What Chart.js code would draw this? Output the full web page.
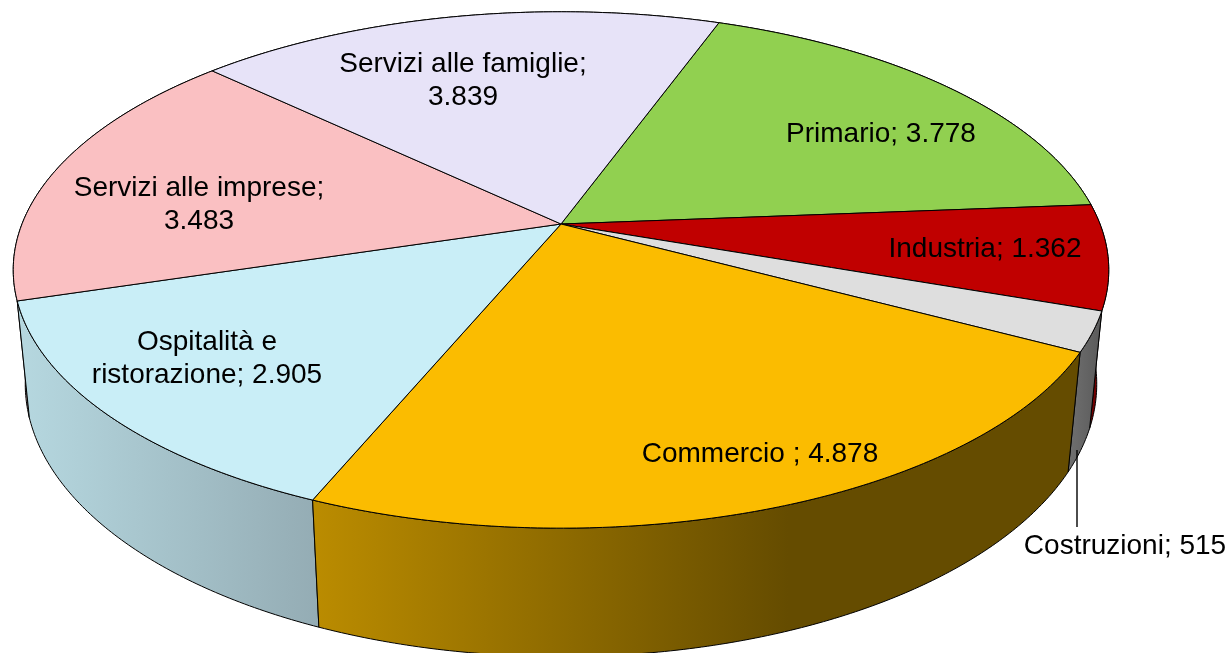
<!DOCTYPE html>
<html><head><meta charset="utf-8">
<style>html,body{margin:0;padding:0;background:#fff;overflow:hidden}canvas{display:block}</style>
<script src="https://cdn.jsdelivr.net/npm/chart.js@4"></script>
</head><body>
<canvas id="c" width="1228" height="653"></canvas>
<script>
const categories = ["Primario","Industria","Costruzioni","Commercio ","Ospitalità e ristorazione","Servizi alle imprese","Servizi alle famiglie"];
const values = [3778,1362,515,4878,2905,3483,3839];
const labelLines = [["Primario; 3.778"],["Industria; 1.362"],["Costruzioni; 515"],["Commercio ; 4.878"],["Ospitalità e","ristorazione; 2.905"],["Servizi alle imprese;","3.483"],["Servizi alle famiglie;","3.839"]];
const topColors = ["#91D050","#C00000","#DEDEDE","#FBBC00","#C9EEF7","#FAC0C2","#E7E3F8"];

// presentation only
const wallStyles = [["#5A7A30","#5A7A30",1],["#7A0000","#6A0000",1],["#707070","#5A5A5A",1],["#BB8C00","#654C00",0.62],["#B6D8E0","#94ACB4",1],["#C8A8AA","#C8A8AA",1],["#8A8890","#8A8890",1]];
const labelAnchors = [[881,134],[985,249],[1125,546],[760,454],[207,342],[199,188],[463,64]];
const P = {cx:561, cy:224, R:539, Ry:250, k:0.178, m:0.0217, n:115};
const LINE_H = 33;

function project(a, low){
  const u = Math.cos(a), v = Math.sin(a);
  const w = 1 - P.k*v + (low ? P.m : 0);
  return [P.cx + P.R*u/w, P.cy + (P.Ry*v + (low ? P.n : 0))/w];
}
function arcPts(a0,a1,low){
  const n = Math.max(2, Math.ceil(Math.abs(a1-a0)/0.01)), pts=[];
  for(let i=0;i<=n;i++) pts.push(project(a0+(a1-a0)*i/n, low));
  return pts;
}
const pie3d = {
  id:'pie3d',
  beforeDatasetsDraw(chart){
    const ctx = chart.ctx, arcs = chart.getDatasetMeta(0).data;
    ctx.save();
    ctx.lineJoin='round';
    ctx.strokeStyle='#000';
    ctx.lineWidth=1;
    const order = arcs.map((e,i)=>i).sort((a,b)=>
      Math.sin((arcs[a].startAngle+arcs[a].endAngle)/2)-Math.sin((arcs[b].startAngle+arcs[b].endAngle)/2));
    for(const i of order){
      const e=arcs[i], up=arcPts(e.startAngle,e.endAngle,false), lo=arcPts(e.startAngle,e.endAngle,true).reverse();
      const all=up.concat(lo), xs=all.map(p=>p[0]);
      const g=ctx.createLinearGradient(Math.min(...xs),0,Math.max(...xs),0), s=wallStyles[i];
      g.addColorStop(0,s[0]); g.addColorStop(s[2],s[1]); g.addColorStop(1,s[1]);
      ctx.beginPath(); all.forEach((p,j)=>j?ctx.lineTo(p[0],p[1]):ctx.moveTo(p[0],p[1])); ctx.closePath();
      ctx.fillStyle=g; ctx.fill(); ctx.stroke();
    }
    arcs.forEach((e,i)=>{
      ctx.beginPath(); ctx.moveTo(P.cx,P.cy);
      arcPts(e.startAngle,e.endAngle,false).forEach(p=>ctx.lineTo(p[0],p[1]));
      ctx.closePath();
      ctx.fillStyle=topColors[i]; ctx.fill(); ctx.stroke();
    });
    ctx.beginPath(); ctx.moveTo(1077,450); ctx.lineTo(1077,527);
    ctx.lineWidth=1.4; ctx.stroke();
    ctx.fillStyle='#000';
    ctx.font='28px "Liberation Sans", Arial, sans-serif';
    ctx.textAlign='center'; ctx.textBaseline='middle';
    labelLines.forEach((lines,i)=>lines.forEach((t,j)=>
      ctx.fillText(t,labelAnchors[i][0],labelAnchors[i][1]+j*LINE_H)));
    ctx.restore();
    return false;
  }
};
new Chart(document.getElementById('c'),{
  type:'pie',
  data:{labels:categories,datasets:[{data:values,backgroundColor:topColors,borderColor:'#000',borderWidth:1}]},
  options:{responsive:false,animation:false,rotation:20,
    layout:{padding:0},
    plugins:{legend:{display:false},tooltip:{enabled:false}}},
  plugins:[pie3d]
});
</script>
</body></html>
